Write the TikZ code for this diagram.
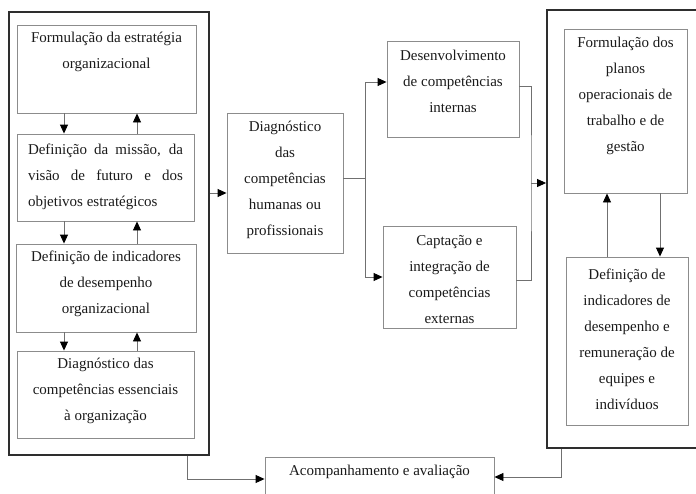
\documentclass[tikz,border=0pt]{standalone}
\usepackage{fontspec}
\setmainfont{Liberation Serif}
\usetikzlibrary{arrows.meta,fit,calc}
\definecolor{boxgray}{HTML}{8C8C8C}
\definecolor{outerc}{HTML}{2E2E2E}
\definecolor{linegray}{HTML}{707070}
\definecolor{ink}{HTML}{1A1A1A}
\begin{document}
\begin{tikzpicture}[x=1pt,y=-1pt,
  obox/.style={draw=outerc,line width=1.8pt,inner sep=0pt},
  ibox/.style={draw=boxgray,line width=0.9pt,inner sep=0pt},
  txt/.style={font=\fontsize{15}{26}\selectfont,text=ink,align=center,inner sep=0pt},
  conn/.style={draw=linegray,line width=0.9pt},
  arr/.style={conn,-{Triangle[length=9pt,width=8pt,color=black]}}]
\useasboundingbox (0,0) rectangle (696,493);
\clip (0,0) rectangle (696,493);
% outer boxes
\node[obox,fit={(9,12) (209,455)}] (lo) {};
\node[obox,fit={(547,10) (705,448)}] (ro) {};
% left inner boxes
\node[ibox,fit={(17,25) (196,113)}] (l1) {};
\node[ibox,fit={(17,134) (194,221)}] (l2) {};
\node[ibox,fit={(16,244) (196,332)}] (l3) {};
\node[ibox,fit={(17,351) (194,438)}] (l4) {};
% middle boxes
\node[ibox,fit={(227,113) (343,253)}] (m) {};
\node[ibox,fit={(387,41) (519,137)}] (d) {};
\node[ibox,fit={(383,226) (516,328)}] (c) {};
% right inner boxes
\node[ibox,fit={(564,29) (687,193)}] (r1) {};
\node[ibox,fit={(566,257) (688,425)}] (r2) {};
% bottom box
\node[ibox,fit={(265,457) (494,500)}] (b) {};
% texts
\node[txt] (tl1) at (106.5,52) {Formulação da estratégia\\organizacional};
\node[txt,text width=155pt,align=justify] (tl2) at (105.5,177.3) {Definição da missão, da\linebreak visão de futuro e dos\linebreak objetivos estratégicos};
\node[txt] (tl3) at (106,284.3) {Definição de indicadores\\de desempenho\\organizacional};
\node[txt] (tl4) at (105.5,391.3) {Diagnóstico das\\competências essenciais\\à organização};
\node[txt] (tm) at (285,180) {Diagnóstico\\das\\competências\\humanas ou\\profissionais};
\node[txt] (td) at (453,81.7) {Desenvolvimento\\de competências\\internas};
\node[txt] (tc) at (449.5,279.8) {Captação e\\integração de\\competências\\externas};
\node[txt] (tr1) at (625.5,95.8) {Formulação dos\\planos\\operacionais de\\trabalho e de\\gestão};
\node[txt] (tr2) at (627,339.5) {Definição de\\indicadores de\\desempenho e\\remuneração de\\equipes e\\indivíduos};
\node[txt] (tb) at (379.5,472) {Acompanhamento e avaliação};
% helper coordinates
\coordinate (dxa) at (64,0);
\coordinate (uxa) at (137,0);
\coordinate (ya) at (0,193);
\coordinate (jn) at (365,178);
\coordinate (yd) at (0,82);
\coordinate (yc) at (0,277);
\coordinate (yd2) at (0,86);
\coordinate (yc2) at (0,280);
\coordinate (mg) at (531,183);
\coordinate (rux) at (607,0);
\coordinate (rdx) at (660,0);
\coordinate (bl) at (187,479);
\coordinate (br) at (561,477);
% left column arrows
\draw[arr] (l1.south -| dxa) -- (l2.north -| dxa);
\draw[arr] (l2.north -| uxa) -- (l1.south -| uxa);
\draw[arr] (l2.south -| dxa) -- (l3.north -| dxa);
\draw[arr] (l3.north -| uxa) -- (l2.south -| uxa);
\draw[arr] (l3.south -| dxa) -- (l4.north -| dxa);
\draw[arr] (l4.north -| uxa) -- (l3.south -| uxa);
% left to middle
\draw[arr] (lo.east |- ya) -- (m.west |- ya);
% split
\draw[conn] (m.east |- jn) -- (jn);
\draw[arr] (jn) |- (d.west |- yd);
\draw[arr] (jn) |- (c.west |- yc);
% merge
\draw[conn] (d.east |- yd2) -| (mg) |- (c.east |- yc2);
\draw[arr] (mg) -- (ro.west |- mg);
% right column arrows
\draw[arr] (r2.north -| rux) -- (r1.south -| rux);
\draw[arr] (r1.south -| rdx) -- (r2.north -| rdx);
% bottom
\draw[arr] (lo.south -| bl) |- (b.west |- bl);
\draw[arr] (ro.south -| br) |- (b.east |- br);
\end{tikzpicture}
\end{document}
